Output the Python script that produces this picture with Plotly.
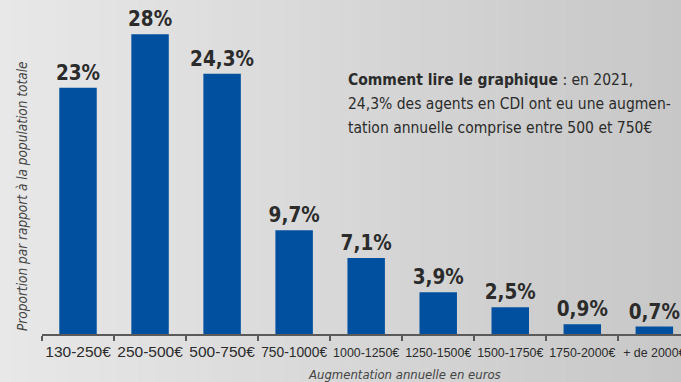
import plotly.graph_objects as go

# Distribution of annual raises among permanent staff (CDI), 2021
categories = ["130-250€", "250-500€", "500-750€", "750-1000€", "1000-1250€",
              "1250-1500€", "1500-1750€", "1750-2000€", "+ de 2000€"]
shares = [23, 28, 24.3, 9.7, 7.1, 3.9, 2.5, 0.9, 0.7]
labels = [f"{v:g}".replace(".", ",") + "%" for v in shares]
note_lines = [
    "<b>Comment lire le graphique</b> : en 2021,",
    "24,3% des agents en CDI ont eu une augmen-",
    "tation annuelle comprise entre 500 et 750€",
]

W, H = 681, 382
ML, MR, MT, MB = 42, 0, 0, 48
PW, PH = W - ML - MR, H - MT - MB

BAR = "#00509F"
TXT = "#2b2b2b"
COND = "DejaVu Sans Condensed, sans-serif"
TICKF = "Liberation Sans, Arial, sans-serif"


def py(pix):
    """figure pixel row -> paper y"""
    return (PH - (pix - MT)) / PH


def px(pix):
    """figure pixel column -> paper x"""
    return (pix - ML) / PW


# longer category labels get a slightly smaller size so they fit their slot
def tick_label(s, base=15.5, max_chars=8):
    n = len(s)
    if n <= max_chars:
        return s
    size = base * max_chars / n
    return f'<span style="font-size:{size:.1f}px">{s}</span>'


fig = go.Figure()
fig.add_trace(go.Bar(
    x=categories, y=shares, text=labels,
    textposition="outside", cliponaxis=False, constraintext="none",
    textfont=dict(family=COND, size=20.5, color=TXT, weight="bold"),
    marker=dict(color=BAR, line=dict(width=0)),
    width=0.52, hoverinfo="skip",
))

# light-to-darker horizontal gray backdrop
shapes = []
n = 70
for i in range(n):
    x0 = W * i / n
    x1 = W * (i + 1) / n + 0.6
    t = (i + 0.5) / n
    g = round(232 - (232 - 199) * t)
    shapes.append(dict(
        type="rect", xref="paper", yref="paper", layer="below",
        x0=px(x0), x1=px(x1), y0=py(H + 2), y1=py(-2),
        line=dict(width=0), fillcolor=f"rgb({g},{g},{g})",
    ))

annotations = [
    dict(
        xref="paper", yref="paper", x=px(22), y=py(196),
        text="Proportion par rapport à la population totale",
        textangle=-90, showarrow=False, xanchor="center", yanchor="middle",
        font=dict(family=COND, size=13.5, color="#444", style="italic"),
    ),
    dict(
        xref="paper", yref="paper", x=px(404), y=py(374),
        text="Augmentation annuelle en euros", showarrow=False,
        xanchor="center", yanchor="middle",
        font=dict(family=COND, size=13, color="#444", style="italic"),
    ),
]
for k, line in enumerate(note_lines):
    annotations.append(dict(
        xref="paper", yref="paper", x=px(346), y=py(80 + 24 * k),
        xanchor="left", yanchor="middle", align="left", showarrow=False,
        text=line, font=dict(family=COND, size=15.5, color=TXT),
    ))

fig.update_layout(
    width=W, height=H,
    margin=dict(l=ML, r=MR, t=MT, b=MB, pad=0, autoexpand=False),
    paper_bgcolor="rgba(0,0,0,0)", plot_bgcolor="rgba(0,0,0,0)",
    showlegend=False, shapes=shapes, annotations=annotations,
    xaxis=dict(
        type="category", range=[-0.5, 8.37], automargin=False,
        tickmode="array", tickvals=categories,
        ticktext=[tick_label(c) for c in categories],
        showline=True, linecolor="#5a5a5a", linewidth=2,
        ticks="outside", tickson="boundaries", ticklen=5, tickwidth=1.5,
        tickcolor="#5a5a5a", showgrid=False, zeroline=False, tickangle=0,
        ticklabelstandoff=2,
        tickfont=dict(family=TICKF, size=15.5, color=TXT),
        fixedrange=True,
    ),
    yaxis=dict(range=[0, 31.2], visible=False, fixedrange=True, automargin=False),
)

fig.write_html("out.html")
